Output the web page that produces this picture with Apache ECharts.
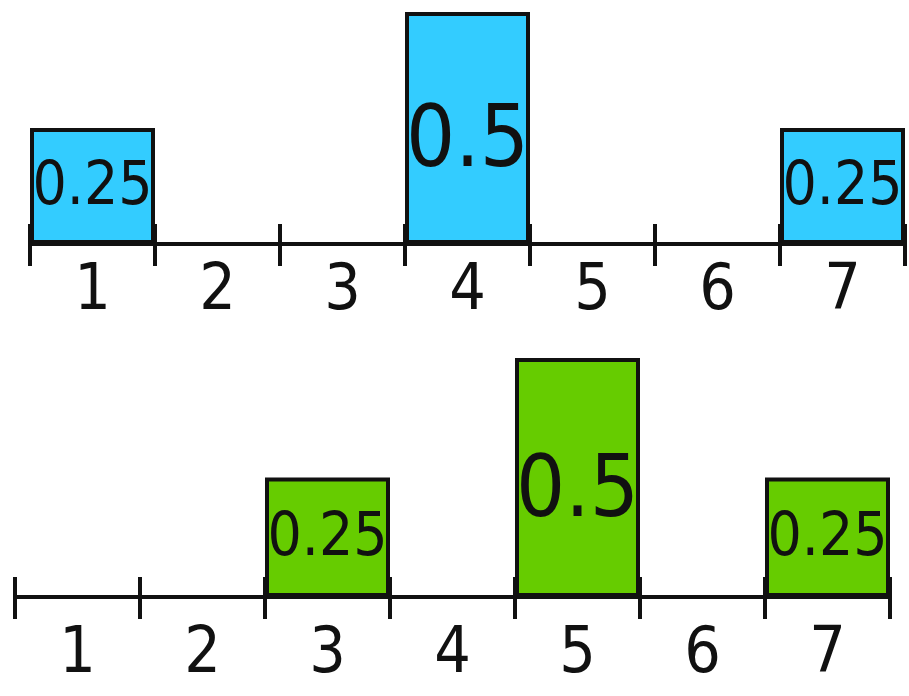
<!DOCTYPE html>
<html>
<head>
<meta charset="utf-8">
<script src="https://cdn.jsdelivr.net/npm/echarts@6/dist/echarts.min.js"></script>
<style>
  html, body { margin: 0; padding: 0; background: #ffffff; }
  #chart { width: 909px; height: 696px; }
</style>
</head>
<body>
<div id="chart"></div>
<script>
// Outcomes 1..7 and the probability of each, before and after the shift
const categories = ['1', '2', '3', '4', '5', '6', '7'];
const topValues = [0.25, 0, 0, 0.5, 0, 0, 0.25];
const bottomValues = [0, 0, 0.25, 0, 0.5, 0, 0.25];

const FONT = '"Liberation Sans Narrow", "DejaVu Sans Condensed", sans-serif';
const INK = '#111111';

// taller bars get a larger label, sitting a little below the bar's middle
function barData(values) {
  return values.map(v => ({
    value: v,
    label: v >= 0.5
      ? { fontSize: 86, offset: [0, 16] }
      : { fontSize: 60, offset: [0, 2] }
  }));
}

function xAxisPair(gridIndex, labelMargin) {
  const base = {
    type: 'category',
    gridIndex: gridIndex,
    data: categories,
    position: 'bottom',
    boundaryGap: true
  };
  return [
    Object.assign({}, base, {
      axisLine: { show: true, lineStyle: { color: INK, width: 4 } },
      axisTick: { show: true, length: 22, lineStyle: { color: INK, width: 4 } },
      axisLabel: { show: true, color: INK, fontSize: 64, fontFamily: FONT, margin: labelMargin },
      splitLine: { show: false }
    }),
    Object.assign({}, base, {
      axisLine: { show: false },
      axisTick: { show: true, inside: true, length: 20, lineStyle: { color: INK, width: 4 } },
      axisLabel: { show: false },
      splitLine: { show: false }
    })
  ];
}

function barSeries(xIndex, yIndex, values, color) {
  return {
    type: 'bar',
    xAxisIndex: xIndex,
    yAxisIndex: yIndex,
    data: barData(values),
    barCategoryGap: '0%',
    itemStyle: { color: color, borderColor: INK, borderWidth: 4 },
    label: {
      show: true,
      position: 'inside',
      color: INK,
      fontFamily: FONT,
      formatter: p => (p.value ? String(p.value) : '')
    },
    z: 3
  };
}

const chart = echarts.init(document.getElementById('chart'), null, { renderer: 'canvas' });
chart.setOption({
  backgroundColor: '#ffffff',
  animation: false,
  grid: [
    { left: 30, right: 4, top: 12, height: 232 },
    { left: 15, right: 19, top: 358, height: 239 }
  ],
  xAxis: [].concat(xAxisPair(0, 16), xAxisPair(1, 26)),
  yAxis: [
    { type: 'value', gridIndex: 0, min: 0, max: 0.5, show: false },
    { type: 'value', gridIndex: 1, min: 0, max: 0.5, show: false }
  ],
  series: [
    barSeries(0, 0, topValues, '#33CCFF'),
    barSeries(2, 1, bottomValues, '#66CC00')
  ]
});
</script>
</body>
</html>
